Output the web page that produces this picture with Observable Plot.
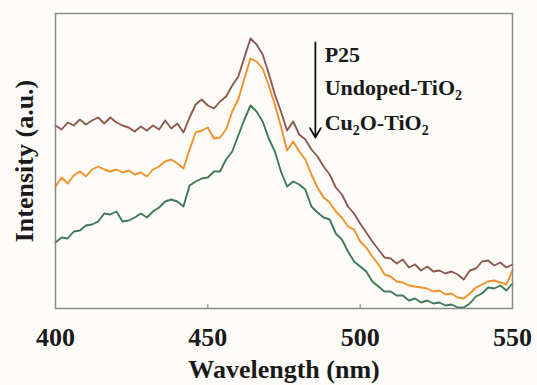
<!DOCTYPE html>
<html>
<head>
<meta charset="utf-8">
<script src="https://cdn.jsdelivr.net/npm/d3@7"></script>
<script src="https://cdn.jsdelivr.net/npm/@observablehq/plot@0.6"></script>
<style>
  body { margin: 0; background: #fdfcf9; }
  #chart svg { display: block; }
</style>
</head>
<body>
<div id="chart"></div>
<script>
// Wavelength grid (nm)
const wavelength = [400,402,404,406,408,410,412,414,416,418,420,422,424,426,428,430,432,434,436,438,
  440,442,444,446,448,450,452,454,456,458,460,462,464,466,468,470,472,474,476,478,
  480,482,484,486,488,490,492,494,496,498,500,502,504,506,508,510,512,514,516,518,
  520,522,524,526,528,530,532,534,536,538,540,542,544,546,548,550];

// PL intensity (a.u.)
const p25 = [183,179,186,183,189,184,188,191,185,191,
  186,183,181,177,182,178,183,179,188,180,
  185,176,191,204,209,203,200,207,212,223,
  232,251,270,264,254,235,214,197,178,187,
  174,169,159,152,142,134,121,114,102,95,
  85,76,67,59,51,50,45,49,41,44,
  38,42,37,38,35,37,34,29,38,40,
  47,48,43,46,41,44];

const undoped = [122,131,125,133,137,132,139,142,139,137,
  139,136,138,134,136,132,139,142,147,149,
  145,140,159,176,178,181,170,171,179,197,
  209,230,250,247,240,223,204,182,158,167,
  157,149,134,121,111,106,97,91,82,79,
  67,61,52,44,34,32,27,26,23,22,
  21,20,17,18,14,15,11,10,15,21,
  24,27,28,26,24,38];

const cu2o = [66,71,70,77,78,83,84,87,95,94,
  97,87,88,91,95,91,97,101,107,109,
  107,102,123,127,130,131,137,137,149,157,
  173,189,203,197,187,170,157,137,122,127,
  124,119,102,96,91,89,75,69,57,47,
  42,37,27,22,17,17,13,13,8,10,
  6,8,5,6,3,4,1,1,5,12,
  15,21,20,23,18,25];

const seriesNames = ["P25", "Undoped-TiO2", "Cu2O-TiO2"];
const seriesColors = ["#8c5a4f", "#f0912c", "#3f7a52"];
const xTicks = [400, 450, 500, 550];
const innerTicks = [450, 500];

// legend label pieces: [text, isSubscript]
const legendParts = [
  [["P25", false]],
  [["Undoped-TiO", false], ["2", true]],
  [["Cu", false], ["2", true], ["O-TiO", false], ["2", true]]
];
// annotation anchor (data units)
const legendX = 488.5;
const legendBaselines = [246, 213, 178];
const arrowX = 485.3;
const arrowFrom = 266;
const arrowTo = 171;

const rows = [];
[p25, undoped, cu2o].forEach((vals, k) => {
  vals.forEach((v, i) => rows.push({wl: wavelength[i], val: v, series: seriesNames[k]}));
});

const font = "'Liberation Serif', 'Times New Roman', serif";

const plot = Plot.plot({
  width: 537,
  height: 385,
  marginLeft: 55,
  marginTop: 13,
  marginRight: 25,
  marginBottom: 77,
  style: { background: "#fdfcf9", fontFamily: font, fontWeight: "bold", fontSize: "26px", color: "#1a1a1a" },
  x: { domain: [400, 550] },
  y: { domain: [0, 295] },
  color: { domain: seriesNames, range: seriesColors },
  marks: [
    Plot.line(rows, { x: "wl", y: "val", z: "series", stroke: "series", strokeWidth: 1.9 }),
    Plot.ruleX(innerTicks, { y1: 0, y2: 4, stroke: "#8a8a8a", strokeWidth: 1.2 }),
    Plot.frame({ stroke: "#8a8a8a", strokeWidth: 1.5 }),
    Plot.axisX({ ticks: xTicks, tickSize: 0, tickPadding: 19, tickFormat: d => String(d),
      fontSize: 26, fontWeight: "bold", fontFamily: font,
      label: "Wavelength (nm)", labelAnchor: "center", labelOffset: 69, labelArrow: false }),
    Plot.axisY({ ticks: [], tickSize: 0, fontSize: 26, fontWeight: "bold", fontFamily: font,
      label: "Intensity (a.u.)", labelAnchor: "center", labelOffset: 41, labelArrow: false }),
    Plot.arrow([{ x: arrowX, y1: arrowFrom, y2: arrowTo }],
      { x1: "x", x2: "x", y1: "y1", y2: "y2", stroke: "#111", strokeWidth: 1.8, headLength: 9 })
  ]
});

document.getElementById("chart").appendChild(plot);

// legend text with real subscripts
const sx = plot.scale("x"), sy = plot.scale("y");
const svg = d3.select(plot);
const g = svg.append("g")
  .attr("font-family", font).attr("font-weight", "bold")
  .attr("fill", "#1a1a1a").attr("text-anchor", "start");
legendParts.forEach((parts, i) => {
  const t = g.append("text")
    .attr("x", sx.apply(legendX))
    .attr("y", sy.apply(legendBaselines[i]))
    .attr("text-anchor", "start")
    .attr("font-size", 22);
  let shifted = false;
  parts.forEach(([s, sub]) => {
    const ts = t.append("tspan").text(s);
    if (sub) {
      ts.attr("font-size", 14).attr("dy", shifted ? 0 : 5);
      shifted = true;
    } else {
      ts.attr("font-size", 22).attr("dy", shifted ? -5 : 0);
      shifted = false;
    }
  });
});
</script>
</body>
</html>
